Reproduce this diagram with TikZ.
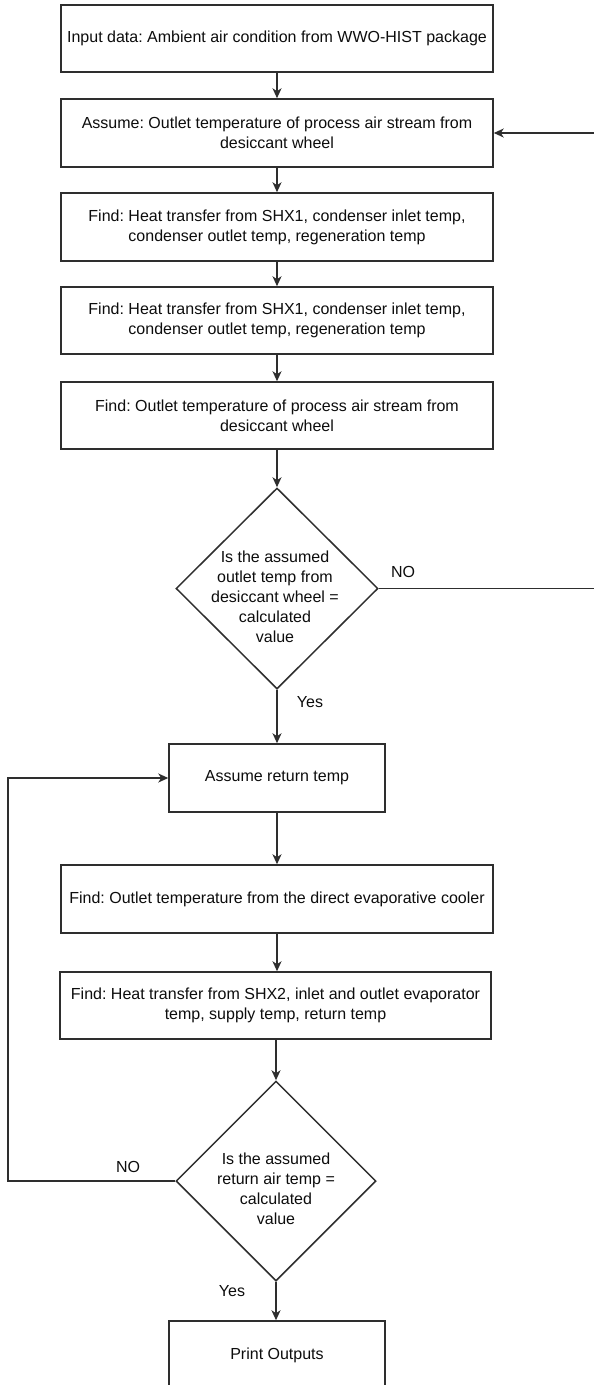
\documentclass[tikz,border=0pt]{standalone}
\usepackage{fontspec}
\setmainfont{Liberation Sans}
\usetikzlibrary{shapes.geometric,arrows.meta}
\begin{document}
\frenchspacing
\begin{tikzpicture}[x=1pt,y=-1pt,
  font=\fontsize{16}{20}\selectfont,
  line width=1.5pt,
  every node/.style={text=black!95},
  box/.style={draw=black!82, rectangle, inner sep=0pt, align=center},
  widebox/.style={box, minimum width=432pt, minimum height=68pt},
  narrowbox/.style={box, minimum width=216pt, minimum height=68pt},
  decision/.style={draw=black!82, diamond, inner sep=0pt,
                   minimum width=202pt, minimum height=201pt},
  flow/.style={draw=black!82, -{Stealth[length=10pt,width=9pt,inset=3pt]}},
  tag/.style={inner sep=0pt, align=center}
]
% page frame
\fill[white] (0,0) rectangle (594,1385);
\path[use as bounding box] (0,0) rectangle (594,1385);
\clip (0,0) rectangle (594,1385);

% first loop: desiccant wheel outlet temperature
\node[widebox, minimum height=67pt] (b1) at (277,38.5)
  {Input data: Ambient air condition from WWO-HIST package};
\node[widebox] (b2) at (277,133)
  {Assume: Outlet temperature of process air stream from\\desiccant wheel};
\node[widebox] (b3) at (277,227)
  {Find: Heat transfer from SHX1, condenser inlet temp,\\condenser outlet temp, regeneration temp};
\node[widebox, minimum height=67pt] (b4) at (277,320.5)
  {Find: Heat transfer from SHX1, condenser inlet temp,\\condenser outlet temp, regeneration temp};
\node[widebox, minimum height=67pt] (b5) at (277,415.5)
  {Find: Outlet temperature of process air stream from\\desiccant wheel};
\node[decision] (d1) at (277,588.5) {};
\node[tag] (d1t) at (275,597)
  {Is the assumed\\outlet temp from\\desiccant wheel =\\calculated\\value};

% second loop: return air temperature
\node[narrowbox] (b6) at (277,778) {Assume return temp};
\node[widebox] (b7) at (277,899)
  {Find: Outlet temperature from the direct evaporative cooler};
\node[box, minimum width=431pt, minimum height=67pt] (b8) at (275.5,1005.5)
  {Find: Heat transfer from SHX2, inlet and outlet evaporator\\temp, supply temp, return temp};
\node[decision, minimum width=200pt, minimum height=200pt] (d2) at (276,1181) {};
\node[tag] (d2t) at (276,1189)
  {Is the assumed\\return air temp =\\calculated\\value};
\node[narrowbox] (b9) at (277,1355) {Print Outputs};

% branch labels
\node[tag] (no1) at (403,572) {NO};
\node[tag] (yes1) at (310,702) {Yes};
\node[tag] (no2) at (128,1167) {NO};
\node[tag] (yes2) at (232,1291) {Yes};

% main flow
\draw[flow] (b1) -- (b2);
\draw[flow] (b2) -- (b3);
\draw[flow] (b3) -- (b4);
\draw[flow] (b4) -- (b5);
\draw[flow] (b5) -- (d1);
\draw[flow] (d1) -- (b6);
\draw[flow] (b6) -- (b7);
\draw[flow] (b7.south) -- (b7.south |- b8.north);
\draw[flow] (b8.south -| d2.north) -- (d2.north);
\draw[flow] (d2.south) -- (d2.south |- b9.north);

% feedback loops
\coordinate (rloop) at (612,0);
\coordinate (lloop) at (8,0);
\draw[flow] (d1.east) -- (d1.east -| rloop) |- (b2.east);
\draw[flow] (d2.west) -- (d2.west -| lloop) |- (b6.west);
\end{tikzpicture}
\end{document}
